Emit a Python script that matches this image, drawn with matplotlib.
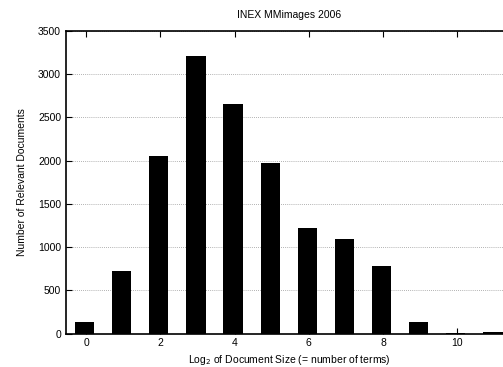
import matplotlib
matplotlib.use("Agg")
import matplotlib.pyplot as plt

plt.rcParams['font.family'] = ['Liberation Sans', 'DejaVu Sans']

# log2 document size bins and relevant document counts
sizes = [0, 1, 2, 3, 4, 5, 6, 7, 8, 9, 10, 11]
counts = [133, 723, 2050, 3215, 2660, 1975, 1215, 1095, 785, 130, 4, 12]

fig = plt.figure(figsize=(5.03, 3.67), dpi=100)
# axes right edge runs past the picture, as in the original
ax = fig.add_axes([66/503, 1 - 333.5/367, 447/503, 302.5/367])

ax.bar([s - 0.04 for s in sizes], counts, width=0.52, color='black', zorder=3)

ax.set_xlim(-0.54, 11.5)
ax.set_ylim(0, 3500)
ax.set_xticks(range(0, 11, 2))
ax.set_yticks(range(0, 3501, 500))
ax.yaxis.grid(True, linestyle=(0, (1, 1.5)), color='#999999', linewidth=0.6, zorder=0)

ax.tick_params(direction='in', top=True, right=True, labelsize=7.5, length=4, width=0.8)
for s in ax.spines.values():
    s.set_linewidth(1.2)

ax.set_title('INEX MMimages 2006', fontsize=7.5, pad=9)
ax.set_xlabel('Log$_2$ of Document Size (= number of terms)', fontsize=7.5, labelpad=3)
ax.set_ylabel('Number of Relevant Documents', fontsize=7.5, labelpad=8)

fig.savefig('out.png', dpi=100)
